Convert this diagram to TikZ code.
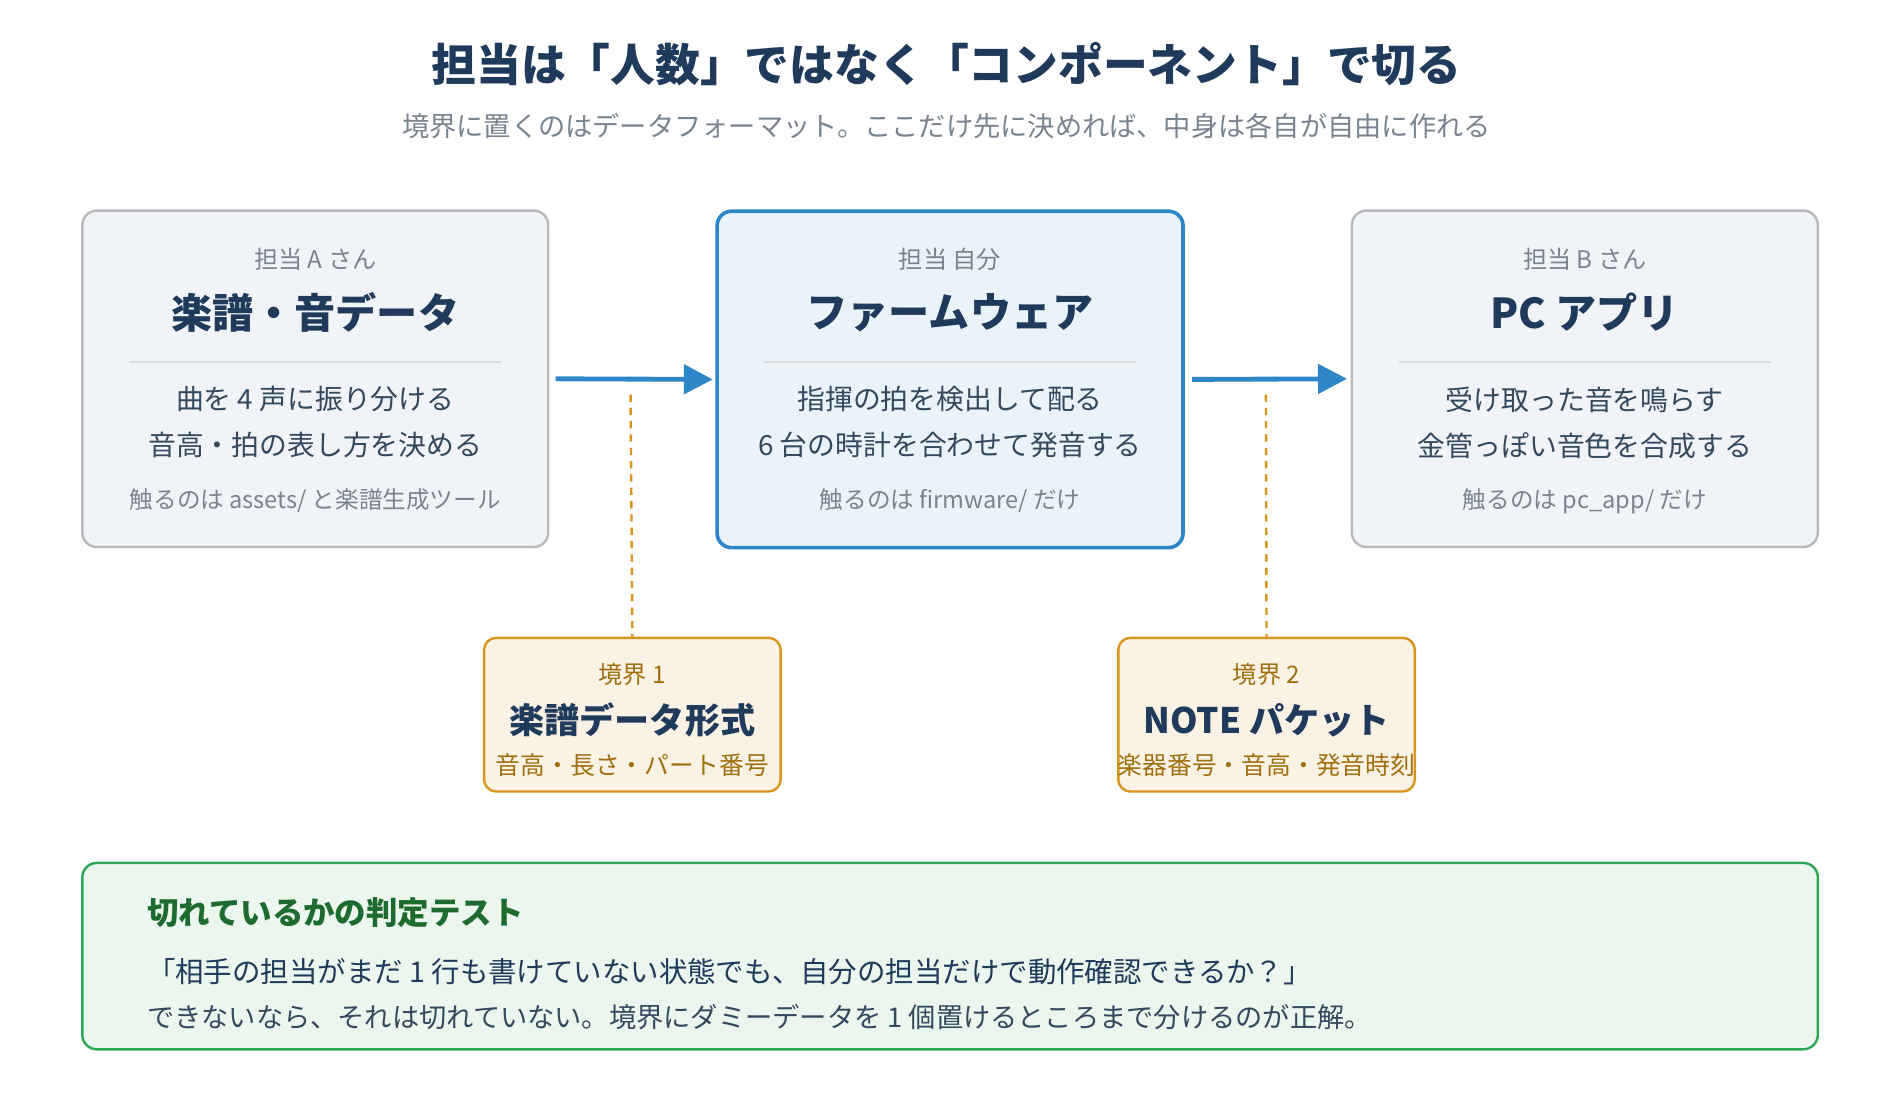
\documentclass[tikz,border=0pt]{standalone}
\usepackage{fontspec}
\setmainfont{Noto Sans CJK JP}
\usetikzlibrary{arrows.meta}
\definecolor{navy}{HTML}{1F3A5A}
\definecolor{grayt}{HTML}{7A8490}
\definecolor{navyt}{HTML}{34485E}
\definecolor{blu}{HTML}{2E86C8}
\definecolor{orb}{HTML}{D9961F}
\definecolor{ort}{HTML}{A0700F}
\definecolor{grn}{HTML}{2EA855}
\definecolor{grt}{HTML}{1E6B30}
\definecolor{boxa}{HTML}{F0F3F7}
\tikzset{
 fs/.style={font=\fontsize{#1}{#1}\selectfont},
 comp/.style={draw=#1,rounded corners=12pt,line width=2pt,minimum width=385pt,minimum height=278pt,anchor=north west},
 bnd/.style={draw=orb,fill=orb!12,rounded corners=10pt,line width=2pt,minimum width=245pt,minimum height=127pt,anchor=north west},
 conn/.style={blu,line width=4pt,-{Triangle[length=24pt,width=24pt]}},
 dsh/.style={orb,line width=2pt,dash pattern=on 6pt off 5pt},
}
\begin{document}
\begin{tikzpicture}[x=1pt,y=-1pt]
\useasboundingbox[fill=white] (0,0) rectangle (1560,925);
\node[fs=37,text=navy] (title) at (782,53) {\bfseries 担当は「人数」ではなく「コンポーネント」で切る};
\node[fs=22.5,text=grayt] (sub) at (782,104) {境界に置くのはデータフォーマット。ここだけ先に決めれば、中身は各自が自由に作れる};
% components
\node[comp=gray!55,fill=boxa] (A) at (67,173) {};
\node[comp=blu,fill=blu!10,line width=3pt] (M) at (591,173) {};
\node[comp=gray!55,fill=boxa] (B) at (1116,173) {};
\foreach \n/\lab/\tt/\la/\lb/\ft in {A/担当 A さん/楽譜・音データ/曲を 4 声に振り分ける/音高・拍の表し方を決める/{触るのは assets/ と楽譜生成ツール},
 M/担当 自分/ファームウェア/指揮の拍を検出して配る/6 台の時計を合わせて発音する/{触るのは firmware/ だけ},
 B/担当 B さん/PC アプリ/受け取った音を鳴らす/金管っぽい音色を合成する/{触るのは pc\_app/ だけ}}{
 \node[fs=20,text=grayt] (\n l) at ([yshift=-41pt]\n.north) {\lab};
 \node[fs=34,text=navy] (\n t) at ([yshift=-85pt]\n.north) {\bfseries\tt};
 \draw[gray!30,line width=1.2pt] ([xshift=40pt,yshift=-126pt]\n.north west) -- ([xshift=-40pt,yshift=-126pt]\n.north east);
 \node[fs=23,text=navyt] (\n a) at ([yshift=-157pt]\n.north) {\la};
 \node[fs=23,text=navyt] (\n b) at ([yshift=-195pt]\n.north) {\lb};
 \node[fs=19.5,text=grayt] (\n f) at ([yshift=-241pt]\n.north) {\ft};
}
\draw[conn] ([xshift=5pt]A.east) -- ([xshift=-2pt]M.west);
\draw[conn] ([xshift=6pt]M.east) -- ([xshift=-3pt]B.west);
% boundaries
\node[bnd] (X1) at (399,526) {};
\node[bnd] (X2) at (923,526) {};
\coordinate (d1) at (521,326);
\coordinate (d2) at (1046,326);
\draw[dsh] (d1) -- (X1.north);
\draw[dsh] (d2) -- (X2.north);
\foreach \n/\lab/\tt/\sb in {X1/境界 1/楽譜データ形式/音高・長さ・パート番号, X2/境界 2/NOTE パケット/楽器番号・音高・発音時刻}{
 \node[fs=20,text=ort] (\n l) at ([yshift=-31pt]\n.north) {\lab};
 \node[fs=29,text=navy] (\n t) at ([yshift=-69pt]\n.north) {\bfseries\tt};
 \node[fs=20.5,text=ort] (\n s) at ([yshift=-106pt]\n.north) {\sb};
}
% test box
\node[draw=grn,fill=grn!10,rounded corners=12pt,line width=2pt,minimum width=1434pt,minimum height=154pt,anchor=north west] (T) at (67,712) {};
\node[fs=26,text=grt,anchor=west] (Tt) at (118,754) {\bfseries 切れているかの判定テスト};
\node[fs=23.5,text=navy,anchor=west] (T1) at (118,803) {「相手の担当がまだ 1 行も書けていない状態でも、自分の担当だけで動作確認できるか？」};
\node[fs=22.5,text=navyt,anchor=west] (T2) at (118,840) {できないなら、それは切れていない。境界にダミーデータを 1 個置けるところまで分けるのが正解。};
\end{tikzpicture}
\end{document}
